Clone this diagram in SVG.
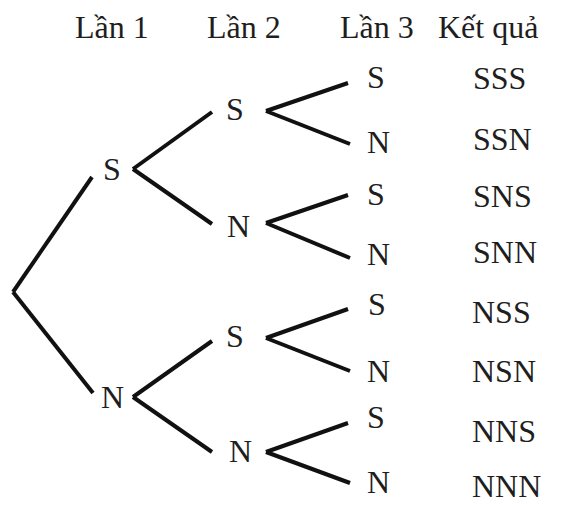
<svg xmlns="http://www.w3.org/2000/svg" width="567" height="506" viewBox="0 0 567 506">
<style>
text{font-family:"Liberation Serif","Times New Roman",serif;font-size:32px;fill:#1e1e1e}
.c line{stroke:#111;stroke-width:4;stroke-linecap:butt}
</style>
<rect width="567" height="506" fill="#fff"/>
<g id="header">
<text x="75" y="38">Lần 1</text>
<text x="207" y="38">Lần 2</text>
<text x="340" y="38">Lần 3</text>
<text x="438" y="38">Kết quả</text>
</g>
<g class="c" id="connectors">
<line x1="13" y1="292" x2="92" y2="177"/>
<line x1="13" y1="292" x2="93" y2="393"/>
<line x1="133" y1="169" x2="212" y2="112"/>
<line x1="133" y1="169" x2="212" y2="224"/>
<line x1="133" y1="397" x2="212" y2="341"/>
<line x1="133" y1="397" x2="212" y2="452"/>
<line x1="266" y1="111" x2="348" y2="83"/>
<line x1="266" y1="111" x2="350" y2="144"/>
<line x1="266" y1="223" x2="348" y2="195"/>
<line x1="266" y1="223" x2="350" y2="258"/>
<line x1="266" y1="338" x2="348" y2="309"/>
<line x1="266" y1="338" x2="350" y2="371"/>
<line x1="266" y1="452" x2="348" y2="423"/>
<line x1="266" y1="452" x2="350" y2="483"/>
</g>
<g id="n1S"><text x="103" y="180">S</text></g>
<g id="n1N"><text x="101" y="408">N</text></g>
<g id="n2SS"><text x="226" y="120">S</text></g>
<g id="n2SN"><text x="227" y="237">N</text></g>
<g id="n2NS"><text x="226" y="347">S</text></g>
<g id="n2NN"><text x="229" y="462">N</text></g>
<g id="n3SSS"><text x="367" y="88">S</text></g>
<g id="n3SSN"><text x="367" y="153">N</text></g>
<g id="n3SNS"><text x="367" y="205">S</text></g>
<g id="n3SNN"><text x="367" y="265">N</text></g>
<g id="n3NSS"><text x="368" y="315">S</text></g>
<g id="n3NSN"><text x="367" y="382">N</text></g>
<g id="n3NNS"><text x="367" y="428">S</text></g>
<g id="n3NNN"><text x="367" y="493">N</text></g>
<g id="results">
<text x="473" y="89">SSS</text>
<text x="473" y="150">SSN</text>
<text x="473" y="207">SNS</text>
<text x="473" y="263">SNN</text>
<text x="472" y="323">NSS</text>
<text x="472" y="382">NSN</text>
<text x="472" y="442">NNS</text>
<text x="472" y="497">NNN</text>
</g>
</svg>
